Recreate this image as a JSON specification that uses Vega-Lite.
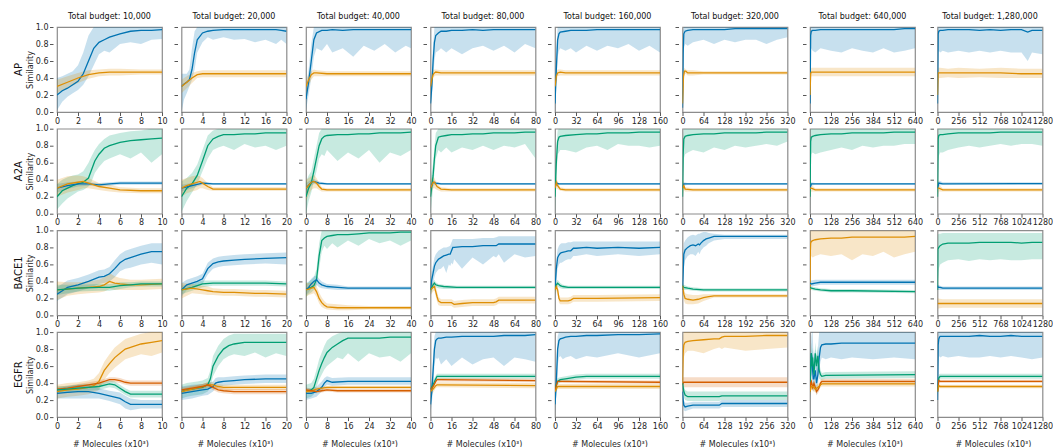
{
"$schema":"https://vega.github.io/schema/vega-lite/v6.json",
"padding":{"left":14,"top":13,"right":0,"bottom":0},
"spacing":5.5,
"datasets":{"series":[
{"target":"AP","budget":10,"method":"m1","x":[0,0.5,1,1.5,2,2.5,3,3.5,4,4.5,5,6,7,8,9,10],"mean":[0.2,0.25,0.28,0.32,0.36,0.45,0.6,0.75,0.82,0.85,0.88,0.92,0.95,0.96,0.96,0.97],"lo":[0.02,0.12,0.18,0.22,0.26,0.32,0.42,0.55,0.68,0.72,0.7,0.8,0.82,0.8,0.85,0.86],"hi":[0.4,0.42,0.45,0.48,0.55,0.7,0.9,1,1,1,1,1,1,1,1,1]},
{"target":"AP","budget":10,"method":"m2","x":[0,1,2,3,4,5,6,8,10],"mean":[0.3,0.35,0.4,0.44,0.46,0.47,0.47,0.47,0.47],"lo":[0.22,0.28,0.34,0.39,0.42,0.43,0.43,0.44,0.44],"hi":[0.38,0.42,0.46,0.49,0.5,0.51,0.51,0.5,0.5]},
{"target":"AP","budget":20,"method":"m1","x":[0,0.5,1,1.5,2,2.5,3,4,5,6,8,10,12,14,16,18,19,20],"mean":[0.3,0.33,0.35,0.38,0.5,0.7,0.85,0.93,0.95,0.96,0.97,0.97,0.97,0.97,0.97,0.97,0.96,0.95],"lo":[0.0,0.15,0.22,0.3,0.38,0.5,0.7,0.82,0.88,0.85,0.88,0.85,0.86,0.82,0.85,0.8,0.85,0.8],"hi":[0.45,0.45,0.45,0.5,0.75,0.95,1,1,1,1,1,1,1,1,1,1,1,1]},
{"target":"AP","budget":20,"method":"m2","x":[0,1,2,3,4,6,10,14,20],"mean":[0.3,0.35,0.4,0.44,0.45,0.45,0.45,0.45,0.45],"lo":[0.22,0.28,0.34,0.4,0.41,0.41,0.41,0.41,0.41],"hi":[0.38,0.42,0.46,0.48,0.49,0.49,0.49,0.49,0.49]},
{"target":"AP","budget":40,"method":"m1","x":[0,1,2,3,4,6,8,10,14,18,22,26,30,34,38,40],"mean":[0.15,0.35,0.6,0.85,0.93,0.96,0.96,0.97,0.96,0.97,0.97,0.97,0.97,0.97,0.97,0.97],"lo":[0.02,0.2,0.4,0.65,0.75,0.72,0.8,0.7,0.75,0.65,0.78,0.72,0.8,0.7,0.78,0.75],"hi":[0.3,0.5,0.8,1,1,1,1,1,1,1,1,1,1,1,1,1]},
{"target":"AP","budget":40,"method":"m2","x":[0,1,2,3,4,8,16,24,32,40],"mean":[0.3,0.38,0.44,0.46,0.46,0.45,0.45,0.45,0.45,0.45],"lo":[0.2,0.3,0.38,0.42,0.42,0.42,0.42,0.42,0.42,0.42],"hi":[0.38,0.44,0.48,0.5,0.49,0.48,0.48,0.48,0.48,0.48]},
{"target":"AP","budget":80,"method":"m1","x":[0,1,2,3,4,6,8,12,16,24,32,40,48,56,64,72,80],"mean":[0.1,0.3,0.6,0.82,0.9,0.93,0.95,0.95,0.96,0.96,0.97,0.96,0.97,0.97,0.97,0.97,0.97],"lo":[0.0,0.15,0.4,0.6,0.7,0.72,0.75,0.7,0.75,0.68,0.75,0.78,0.72,0.78,0.7,0.8,0.75],"hi":[0.3,0.5,0.8,1,1,1,1,1,1,1,1,1,1,1,1,1,1]},
{"target":"AP","budget":80,"method":"m2","x":[0,1,2,3,4,8,16,32,48,64,80],"mean":[0.3,0.38,0.44,0.46,0.47,0.46,0.46,0.46,0.46,0.46,0.46],"lo":[0.2,0.3,0.4,0.42,0.43,0.43,0.43,0.43,0.43,0.43,0.43],"hi":[0.38,0.45,0.49,0.5,0.5,0.49,0.49,0.49,0.49,0.49,0.49]},
{"target":"AP","budget":160,"method":"m1","x":[0,2,4,6,8,16,24,32,48,64,80,96,112,128,144,160],"mean":[0.1,0.5,0.85,0.92,0.94,0.95,0.96,0.96,0.96,0.97,0.97,0.97,0.97,0.97,0.97,0.97],"lo":[0,0.3,0.65,0.72,0.75,0.72,0.75,0.7,0.78,0.72,0.78,0.75,0.8,0.72,0.78,0.7],"hi":[0.3,0.75,1,1,1,1,1,1,1,1,1,1,1,1,1,1]},
{"target":"AP","budget":160,"method":"m2","x":[0,2,4,8,16,32,64,96,128,160],"mean":[0.3,0.42,0.46,0.47,0.46,0.46,0.46,0.46,0.46,0.46],"lo":[0.2,0.35,0.42,0.43,0.43,0.43,0.43,0.43,0.43,0.43],"hi":[0.38,0.47,0.5,0.5,0.49,0.49,0.49,0.49,0.49,0.49]},
{"target":"AP","budget":320,"method":"m1","x":[0,2,4,8,16,32,64,96,128,160,192,224,256,288,320],"mean":[0.05,0.7,0.92,0.95,0.96,0.97,0.97,0.97,0.97,0.98,0.98,0.98,0.98,0.98,0.98],"lo":[0,0.4,0.75,0.8,0.78,0.82,0.85,0.8,0.85,0.82,0.85,0.85,0.8,0.85,0.88],"hi":[0.3,0.95,1,1,1,1,1,1,1,1,1,1,1,1,1]},
{"target":"AP","budget":320,"method":"m2","x":[0,3,6,10,16,32,64,128,192,256,320],"mean":[0.1,0.42,0.48,0.48,0.46,0.46,0.46,0.46,0.46,0.46,0.46],"lo":[0.0,0.35,0.44,0.45,0.43,0.43,0.44,0.44,0.44,0.44,0.44],"hi":[0.2,0.48,0.52,0.5,0.49,0.49,0.48,0.48,0.48,0.48,0.48]},
{"target":"AP","budget":640,"method":"m1","x":[0,4,8,16,32,64,128,192,256,320,384,448,512,576,640],"mean":[0.1,0.9,0.95,0.96,0.96,0.97,0.97,0.97,0.97,0.97,0.97,0.97,0.97,0.98,0.98],"lo":[0,0.7,0.75,0.72,0.7,0.75,0.72,0.7,0.75,0.72,0.7,0.75,0.7,0.72,0.75],"hi":[0.4,1,1,1,1,1,1,1,1,1,1,1,1,1,1]},
{"target":"AP","budget":640,"method":"m2","x":[0,4,8,32,128,256,384,512,640],"mean":[0.2,0.45,0.47,0.47,0.47,0.47,0.47,0.47,0.47],"lo":[0.1,0.4,0.42,0.42,0.42,0.42,0.42,0.42,0.42],"hi":[0.3,0.5,0.52,0.52,0.52,0.52,0.52,0.52,0.52]},
{"target":"AP","budget":1280,"method":"m1","x":[0,8,16,32,64,128,256,384,512,640,768,896,1024,1100,1152,1280],"mean":[0.1,0.92,0.95,0.96,0.96,0.97,0.97,0.97,0.96,0.97,0.96,0.97,0.97,0.94,0.96,0.96],"lo":[0,0.7,0.72,0.7,0.72,0.7,0.72,0.7,0.72,0.7,0.72,0.7,0.7,0.6,0.7,0.68],"hi":[0.4,1,1,1,1,1,1,1,1,1,1,1,1,1,1,1]},
{"target":"AP","budget":1280,"method":"m2","x":[0,8,32,128,256,512,768,1024,1280],"mean":[0.2,0.46,0.46,0.46,0.46,0.46,0.46,0.45,0.45],"lo":[0.1,0.4,0.4,0.41,0.4,0.41,0.4,0.4,0.4],"hi":[0.3,0.52,0.52,0.51,0.52,0.51,0.52,0.51,0.51]},

{"target":"A2A","budget":10,"method":"m3","x":[0,0.5,1,1.5,2,2.5,3,3.3,3.6,4,4.5,5,6,7,8,9,10],"mean":[0.2,0.27,0.3,0.33,0.35,0.37,0.42,0.52,0.62,0.7,0.77,0.8,0.84,0.86,0.87,0.88,0.89],"lo":[0.05,0.12,0.18,0.22,0.26,0.28,0.32,0.38,0.48,0.55,0.62,0.65,0.7,0.65,0.72,0.6,0.7],"hi":[0.35,0.4,0.43,0.45,0.46,0.5,0.6,0.68,0.75,0.82,0.88,0.92,0.95,0.97,0.98,1,1]},
{"target":"A2A","budget":10,"method":"m1","x":[0,1,2,3,4,5,6,8,10],"mean":[0.3,0.33,0.35,0.35,0.34,0.35,0.36,0.36,0.36],"lo":[0.25,0.29,0.32,0.33,0.32,0.33,0.34,0.34,0.34],"hi":[0.35,0.37,0.38,0.37,0.36,0.37,0.38,0.38,0.38]},
{"target":"A2A","budget":10,"method":"m2","x":[0,1,2,2.5,3,4,5,6,8,10],"mean":[0.3,0.35,0.37,0.38,0.36,0.32,0.3,0.28,0.27,0.27],"lo":[0.2,0.25,0.28,0.3,0.3,0.28,0.26,0.25,0.24,0.24],"hi":[0.4,0.44,0.45,0.44,0.42,0.36,0.34,0.31,0.3,0.3]},
{"target":"A2A","budget":20,"method":"m3","x":[0,1,2,3,4,5,6,7,8,10,12,14,16,18,20],"mean":[0.2,0.3,0.35,0.45,0.62,0.8,0.88,0.91,0.93,0.93,0.94,0.94,0.95,0.95,0.95],"lo":[0.02,0.15,0.25,0.35,0.5,0.65,0.75,0.78,0.8,0.75,0.82,0.78,0.8,0.75,0.8],"hi":[0.38,0.42,0.48,0.58,0.75,0.92,0.98,1,1,1,1,1,1,1,1]},
{"target":"A2A","budget":20,"method":"m1","x":[0,2,4,6,10,14,20],"mean":[0.3,0.33,0.36,0.35,0.35,0.35,0.35],"lo":[0.26,0.3,0.34,0.34,0.34,0.34,0.34],"hi":[0.34,0.36,0.38,0.36,0.36,0.36,0.36]},
{"target":"A2A","budget":20,"method":"m2","x":[0,1,2,3,3.5,4,5,6,10,14,20],"mean":[0.3,0.33,0.35,0.37,0.38,0.36,0.32,0.29,0.29,0.29,0.29],"lo":[0.2,0.24,0.26,0.28,0.3,0.3,0.28,0.27,0.27,0.27,0.27],"hi":[0.4,0.42,0.44,0.45,0.44,0.42,0.36,0.31,0.31,0.31,0.31]},
{"target":"A2A","budget":40,"method":"m3","x":[0,1,2,3,4,5,6,7,8,12,16,20,24,28,32,36,40],"mean":[0.2,0.3,0.36,0.5,0.65,0.8,0.88,0.91,0.92,0.93,0.93,0.94,0.94,0.95,0.95,0.95,0.96],"lo":[0.0,0.15,0.25,0.38,0.5,0.65,0.7,0.68,0.75,0.62,0.72,0.65,0.75,0.6,0.72,0.68,0.75],"hi":[0.38,0.45,0.5,0.65,0.8,0.95,1,1,1,1,1,1,1,1,1,1,1]},
{"target":"A2A","budget":40,"method":"m1","x":[0,2,3,5,8,16,40],"mean":[0.3,0.37,0.38,0.36,0.35,0.35,0.35],"lo":[0.24,0.33,0.35,0.34,0.34,0.34,0.34],"hi":[0.36,0.4,0.41,0.38,0.36,0.36,0.36]},
{"target":"A2A","budget":40,"method":"m2","x":[0,2,3,4,5,6,8,16,40],"mean":[0.3,0.37,0.38,0.36,0.32,0.29,0.28,0.28,0.28],"lo":[0.15,0.28,0.3,0.3,0.28,0.26,0.26,0.26,0.26],"hi":[0.4,0.44,0.46,0.42,0.36,0.31,0.3,0.3,0.3]},
{"target":"A2A","budget":80,"method":"m3","x":[0,2,3,4,6,8,12,16,24,32,40,48,56,64,72,80],"mean":[0.2,0.45,0.65,0.8,0.9,0.91,0.92,0.93,0.93,0.94,0.94,0.95,0.95,0.95,0.96,0.96],"lo":[0,0.3,0.5,0.65,0.75,0.72,0.78,0.72,0.78,0.75,0.8,0.75,0.8,0.78,0.82,0.65],"hi":[0.38,0.6,0.8,0.95,1,1,1,1,1,1,1,1,1,1,1,1]},
{"target":"A2A","budget":80,"method":"m1","x":[0,2,4,8,80],"mean":[0.3,0.37,0.36,0.35,0.35],"lo":[0.25,0.33,0.34,0.34,0.34],"hi":[0.35,0.4,0.38,0.36,0.36]},
{"target":"A2A","budget":80,"method":"m2","x":[0,2,3,5,8,16,80],"mean":[0.3,0.37,0.37,0.32,0.29,0.28,0.28],"lo":[0.2,0.3,0.3,0.28,0.26,0.26,0.26],"hi":[0.4,0.44,0.42,0.35,0.31,0.3,0.3]},
{"target":"A2A","budget":160,"method":"m3","x":[0,2,4,6,8,16,32,48,64,80,96,112,128,144,160],"mean":[0.2,0.6,0.85,0.9,0.91,0.92,0.93,0.94,0.94,0.95,0.95,0.95,0.96,0.96,0.96],"lo":[0,0.4,0.7,0.72,0.75,0.75,0.72,0.78,0.8,0.75,0.82,0.8,0.8,0.78,0.8],"hi":[0.4,0.8,0.98,1,1,1,1,1,1,1,1,1,1,1,1]},
{"target":"A2A","budget":160,"method":"m1","x":[0,2,6,160],"mean":[0.3,0.36,0.35,0.35],"lo":[0.25,0.33,0.34,0.34],"hi":[0.35,0.39,0.36,0.36]},
{"target":"A2A","budget":160,"method":"m2","x":[0,2,4,8,16,160],"mean":[0.3,0.37,0.33,0.29,0.28,0.28],"lo":[0.2,0.3,0.29,0.27,0.26,0.26],"hi":[0.4,0.44,0.37,0.31,0.3,0.3]},
{"target":"A2A","budget":320,"method":"m3","x":[0,2,4,8,16,32,64,96,128,160,192,224,256,288,320],"mean":[0.2,0.7,0.88,0.91,0.92,0.93,0.94,0.94,0.95,0.95,0.95,0.95,0.96,0.96,0.96],"lo":[0,0.45,0.65,0.7,0.72,0.75,0.72,0.78,0.75,0.8,0.78,0.8,0.82,0.8,0.85],"hi":[0.4,0.9,1,1,1,1,1,1,1,1,1,1,1,1,1]},
{"target":"A2A","budget":320,"method":"m1","x":[0,4,16,320],"mean":[0.3,0.35,0.35,0.35],"lo":[0.25,0.33,0.34,0.34],"hi":[0.35,0.37,0.36,0.36]},
{"target":"A2A","budget":320,"method":"m2","x":[0,4,8,32,320],"mean":[0.3,0.33,0.29,0.28,0.28],"lo":[0.2,0.28,0.26,0.26,0.26],"hi":[0.4,0.38,0.31,0.3,0.3]},
{"target":"A2A","budget":640,"method":"m3","x":[0,4,8,16,32,64,128,192,256,320,384,448,512,576,640],"mean":[0.2,0.85,0.9,0.91,0.92,0.93,0.94,0.94,0.95,0.95,0.95,0.95,0.96,0.96,0.96],"lo":[0,0.6,0.7,0.72,0.7,0.72,0.75,0.78,0.75,0.8,0.78,0.8,0.8,0.82,0.82],"hi":[0.4,1,1,1,1,1,1,1,1,1,1,1,1,1,1]},
{"target":"A2A","budget":640,"method":"m1","x":[0,8,32,640],"mean":[0.3,0.35,0.35,0.35],"lo":[0.25,0.33,0.34,0.34],"hi":[0.35,0.37,0.36,0.36]},
{"target":"A2A","budget":640,"method":"m2","x":[0,8,32,640],"mean":[0.3,0.3,0.28,0.28],"lo":[0.2,0.26,0.26,0.26],"hi":[0.4,0.34,0.3,0.3]},
{"target":"A2A","budget":1280,"method":"m3","x":[0,8,16,32,64,128,256,384,512,640,768,896,1024,1152,1280],"mean":[0.2,0.88,0.92,0.93,0.93,0.94,0.95,0.95,0.95,0.95,0.96,0.96,0.96,0.96,0.96],"lo":[0,0.6,0.68,0.72,0.72,0.75,0.78,0.8,0.78,0.8,0.82,0.8,0.82,0.82,0.8],"hi":[0.4,1,1,1,1,1,1,1,1,1,1,1,1,1,1]},
{"target":"A2A","budget":1280,"method":"m1","x":[0,16,64,1280],"mean":[0.3,0.36,0.35,0.355],"lo":[0.25,0.33,0.34,0.34],"hi":[0.35,0.39,0.37,0.37]},
{"target":"A2A","budget":1280,"method":"m2","x":[0,16,64,1280],"mean":[0.3,0.3,0.28,0.28],"lo":[0.2,0.26,0.26,0.26],"hi":[0.4,0.34,0.3,0.3]},

{"target":"BACE1","budget":10,"method":"m1","x":[0,1,2,3,4,4.5,5,5.5,6,6.5,7,8,9,10],"mean":[0.25,0.33,0.36,0.4,0.45,0.46,0.49,0.55,0.62,0.66,0.68,0.72,0.75,0.75],"lo":[0.17,0.25,0.28,0.32,0.37,0.38,0.4,0.45,0.52,0.55,0.56,0.6,0.62,0.6],"hi":[0.33,0.41,0.44,0.48,0.53,0.54,0.57,0.65,0.72,0.76,0.78,0.82,0.85,0.85]},
{"target":"BACE1","budget":10,"method":"m2","x":[0,1,2,3,4,4.5,5,5.5,6,7,8,10],"mean":[0.3,0.31,0.32,0.33,0.34,0.36,0.4,0.38,0.37,0.36,0.36,0.37],"lo":[0.18,0.23,0.25,0.26,0.27,0.28,0.31,0.3,0.3,0.3,0.3,0.31],"hi":[0.4,0.39,0.39,0.4,0.42,0.45,0.5,0.46,0.44,0.42,0.42,0.43]},
{"target":"BACE1","budget":10,"method":"m3","x":[0,2,4,5,6,7,8,10],"mean":[0.3,0.32,0.33,0.33,0.35,0.36,0.37,0.37],"lo":[0.24,0.28,0.29,0.29,0.31,0.33,0.34,0.34],"hi":[0.36,0.36,0.37,0.37,0.39,0.39,0.4,0.4]},
{"target":"BACE1","budget":20,"method":"m1","x":[0,1,2,3,4,5,6,7,8,10,12,16,20],"mean":[0.3,0.36,0.38,0.4,0.43,0.55,0.61,0.63,0.64,0.65,0.66,0.67,0.68],"lo":[0.22,0.3,0.32,0.34,0.37,0.48,0.55,0.57,0.58,0.59,0.6,0.61,0.6],"hi":[0.38,0.42,0.44,0.46,0.49,0.62,0.67,0.69,0.7,0.71,0.72,0.73,0.74]},
{"target":"BACE1","budget":20,"method":"m3","x":[0,2,4,6,8,12,16,20],"mean":[0.3,0.33,0.37,0.38,0.38,0.38,0.38,0.37],"lo":[0.25,0.29,0.33,0.35,0.35,0.35,0.35,0.34],"hi":[0.35,0.37,0.41,0.41,0.41,0.41,0.41,0.4]},
{"target":"BACE1","budget":20,"method":"m2","x":[0,2,4,5,6,8,10,14,16,20],"mean":[0.3,0.32,0.3,0.29,0.28,0.27,0.27,0.26,0.26,0.25],"lo":[0.2,0.26,0.25,0.24,0.24,0.23,0.23,0.22,0.22,0.21],"hi":[0.38,0.37,0.35,0.34,0.32,0.31,0.31,0.3,0.3,0.29]},
{"target":"BACE1","budget":40,"method":"m3","x":[0,1,2,3,4,5,6,7,8,10,12,16,20,24,28,32,36,40],"mean":[0.3,0.32,0.33,0.35,0.42,0.7,0.88,0.91,0.93,0.94,0.95,0.95,0.96,0.97,0.97,0.97,0.98,0.98],"lo":[0.22,0.25,0.27,0.3,0.35,0.55,0.75,0.82,0.78,0.85,0.8,0.88,0.82,0.9,0.85,0.88,0.82,0.88],"hi":[0.38,0.4,0.42,0.45,0.55,0.85,1,1,1,1,1,1,1,1,1,1,1,1]},
{"target":"BACE1","budget":40,"method":"m1","x":[0,1,2,3,4,5,6,8,12,16,24,40],"mean":[0.3,0.33,0.37,0.4,0.42,0.38,0.36,0.34,0.33,0.32,0.32,0.32],"lo":[0.24,0.27,0.31,0.34,0.36,0.33,0.32,0.31,0.3,0.3,0.3,0.3],"hi":[0.36,0.39,0.43,0.46,0.47,0.43,0.4,0.37,0.36,0.34,0.34,0.34]},
{"target":"BACE1","budget":40,"method":"m2","x":[0,1,2,3,4,5,6,7,8,12,16,24,40],"mean":[0.3,0.31,0.32,0.33,0.28,0.2,0.15,0.12,0.1,0.09,0.09,0.09,0.09],"lo":[0.22,0.24,0.25,0.26,0.22,0.14,0.1,0.08,0.07,0.06,0.06,0.07,0.07],"hi":[0.38,0.38,0.39,0.4,0.35,0.27,0.21,0.17,0.14,0.13,0.12,0.11,0.11]},
{"target":"BACE1","budget":80,"method":"m1","x":[0,1,2,3,4,6,8,10,12,14,15,16,17,18,24,32,40,48,50,52,56,64,72,80],"mean":[0.3,0.42,0.5,0.58,0.62,0.66,0.68,0.7,0.71,0.72,0.72,0.76,0.8,0.8,0.81,0.81,0.82,0.82,0.82,0.84,0.84,0.84,0.84,0.84],"lo":[0.2,0.3,0.38,0.45,0.5,0.54,0.55,0.58,0.5,0.6,0.58,0.62,0.6,0.66,0.55,0.68,0.6,0.7,0.68,0.72,0.62,0.72,0.68,0.7],"hi":[0.4,0.52,0.6,0.68,0.72,0.76,0.78,0.8,0.8,0.81,0.82,0.86,0.9,0.9,0.9,0.9,0.91,0.91,0.92,0.93,0.93,0.93,0.93,0.93]},
{"target":"BACE1","budget":80,"method":"m3","x":[0,2,3,4,6,10,20,40,80],"mean":[0.3,0.36,0.38,0.36,0.35,0.34,0.33,0.33,0.33],"lo":[0.25,0.32,0.34,0.33,0.32,0.31,0.31,0.31,0.31],"hi":[0.35,0.4,0.42,0.39,0.37,0.36,0.35,0.35,0.35]},
{"target":"BACE1","budget":80,"method":"m2","x":[0,2,3,4,5,6,8,10,16,17,18,24,32,48,50,52,60,80],"mean":[0.3,0.33,0.34,0.28,0.22,0.17,0.15,0.15,0.15,0.14,0.13,0.14,0.15,0.15,0.16,0.18,0.18,0.18],"lo":[0.24,0.28,0.29,0.22,0.16,0.12,0.11,0.11,0.11,0.1,0.09,0.1,0.11,0.11,0.12,0.14,0.14,0.14],"hi":[0.36,0.38,0.39,0.34,0.28,0.22,0.19,0.19,0.19,0.18,0.17,0.18,0.19,0.19,0.2,0.22,0.22,0.22]},
{"target":"BACE1","budget":160,"method":"m1","x":[0,2,4,6,8,10,16,20,24,28,32,48,64,96,128,160],"mean":[0.3,0.55,0.68,0.71,0.73,0.74,0.75,0.76,0.76,0.79,0.79,0.8,0.79,0.8,0.79,0.8],"lo":[0.2,0.42,0.55,0.6,0.62,0.62,0.65,0.66,0.66,0.7,0.7,0.72,0.7,0.72,0.7,0.72],"hi":[0.4,0.66,0.78,0.82,0.84,0.85,0.85,0.86,0.86,0.87,0.87,0.87,0.87,0.87,0.87,0.87]},
{"target":"BACE1","budget":160,"method":"m3","x":[0,2,4,8,12,20,32,160],"mean":[0.3,0.36,0.38,0.35,0.34,0.33,0.33,0.33],"lo":[0.25,0.32,0.34,0.32,0.31,0.31,0.31,0.31],"hi":[0.35,0.4,0.42,0.38,0.36,0.35,0.35,0.35]},
{"target":"BACE1","budget":160,"method":"m2","x":[0,2,4,6,8,12,20,24,28,32,64,160],"mean":[0.3,0.34,0.3,0.2,0.17,0.17,0.17,0.18,0.2,0.2,0.2,0.21],"lo":[0.24,0.29,0.24,0.15,0.13,0.13,0.13,0.14,0.16,0.16,0.16,0.17],"hi":[0.36,0.39,0.36,0.25,0.21,0.21,0.21,0.22,0.24,0.24,0.24,0.25]},
{"target":"BACE1","budget":320,"method":"m1","x":[0,4,8,16,24,32,40,48,52,56,64,72,80,96,128,192,256,320],"mean":[0.3,0.72,0.77,0.8,0.82,0.83,0.82,0.84,0.83,0.85,0.88,0.9,0.91,0.93,0.93,0.93,0.93,0.93],"lo":[0.2,0.55,0.65,0.7,0.72,0.72,0.7,0.75,0.72,0.76,0.8,0.82,0.85,0.88,0.9,0.9,0.9,0.9],"hi":[0.4,0.85,0.88,0.92,0.94,0.95,0.94,0.96,0.96,0.97,0.98,0.98,0.97,0.96,0.95,0.95,0.95,0.95]},
{"target":"BACE1","budget":320,"method":"m3","x":[0,4,16,32,64,96,320],"mean":[0.35,0.33,0.32,0.31,0.3,0.3,0.3],"lo":[0.3,0.3,0.3,0.29,0.28,0.28,0.28],"hi":[0.4,0.36,0.34,0.33,0.32,0.32,0.32]},
{"target":"BACE1","budget":320,"method":"m2","x":[0,4,8,16,32,48,64,80,96,128,320],"mean":[0.35,0.25,0.2,0.19,0.18,0.19,0.21,0.22,0.23,0.23,0.23],"lo":[0.3,0.18,0.14,0.13,0.13,0.14,0.17,0.19,0.21,0.21,0.21],"hi":[0.4,0.32,0.26,0.25,0.24,0.24,0.25,0.25,0.25,0.25,0.25]},
{"target":"BACE1","budget":640,"method":"m2","x":[0,2,4,8,16,32,64,128,192,256,320,384,448,512,576,640],"mean":[0.3,0.75,0.85,0.87,0.88,0.89,0.9,0.91,0.91,0.92,0.92,0.92,0.92,0.92,0.92,0.93],"lo":[0.2,0.55,0.65,0.7,0.68,0.7,0.72,0.7,0.72,0.65,0.72,0.7,0.75,0.68,0.72,0.75],"hi":[0.4,1,1,1,1,1,1,1,1,1,1,1,1,1,1,1]},
{"target":"BACE1","budget":640,"method":"m1","x":[0,8,32,64,640],"mean":[0.38,0.37,0.38,0.39,0.39],"lo":[0.34,0.34,0.35,0.36,0.36],"hi":[0.42,0.41,0.42,0.42,0.42]},
{"target":"BACE1","budget":640,"method":"m3","x":[0,8,32,64,128,256,640],"mean":[0.33,0.32,0.31,0.3,0.29,0.29,0.28],"lo":[0.3,0.3,0.29,0.28,0.27,0.27,0.26],"hi":[0.36,0.34,0.33,0.32,0.31,0.31,0.3]},
{"target":"BACE1","budget":1280,"method":"m3","x":[0,4,16,32,64,128,256,384,512,640,768,896,1024,1152,1280],"mean":[0.3,0.78,0.8,0.82,0.84,0.85,0.85,0.85,0.86,0.86,0.86,0.86,0.85,0.86,0.86],"lo":[0.2,0.4,0.55,0.6,0.62,0.65,0.66,0.64,0.66,0.65,0.66,0.65,0.65,0.66,0.66],"hi":[0.4,0.95,0.96,0.96,0.97,0.97,0.97,0.97,0.97,0.97,0.97,0.97,0.97,0.97,0.97]},
{"target":"BACE1","budget":1280,"method":"m1","x":[0,8,32,64,128,1280],"mean":[0.35,0.33,0.33,0.32,0.32,0.32],"lo":[0.3,0.3,0.3,0.3,0.3,0.3],"hi":[0.4,0.36,0.35,0.34,0.34,0.34]},
{"target":"BACE1","budget":1280,"method":"m2","x":[0,8,64,1280],"mean":[0.14,0.14,0.14,0.14],"lo":[0.05,0.08,0.09,0.09],"hi":[0.25,0.2,0.19,0.19]},

{"target":"EGFR","budget":10,"method":"m2","x":[0,1,2,3,3.5,4,4.5,5,5.5,6,6.5,7,8,9,10],"mean":[0.3,0.32,0.33,0.35,0.37,0.42,0.55,0.63,0.7,0.75,0.8,0.82,0.86,0.88,0.9],"lo":[0.22,0.24,0.25,0.27,0.29,0.32,0.44,0.52,0.58,0.63,0.68,0.7,0.74,0.72,0.76],"hi":[0.38,0.4,0.41,0.43,0.45,0.52,0.65,0.74,0.82,0.87,0.92,0.94,0.98,1,1]},
{"target":"EGFR","budget":10,"method":"m4","x":[0,1,2,3,4,5,5.5,6,6.5,7,8,10],"mean":[0.33,0.34,0.36,0.38,0.4,0.44,0.44,0.43,0.41,0.4,0.4,0.4],"lo":[0.3,0.31,0.33,0.35,0.37,0.41,0.41,0.4,0.38,0.37,0.37,0.37],"hi":[0.36,0.37,0.39,0.41,0.43,0.47,0.47,0.46,0.44,0.43,0.43,0.43]},
{"target":"EGFR","budget":10,"method":"m3","x":[0,1,2,3,4,5,5.5,6,6.5,7,8,10],"mean":[0.32,0.33,0.34,0.35,0.36,0.39,0.38,0.34,0.3,0.27,0.27,0.27],"lo":[0.28,0.29,0.3,0.31,0.32,0.35,0.34,0.3,0.26,0.23,0.23,0.23],"hi":[0.36,0.37,0.38,0.39,0.4,0.43,0.42,0.38,0.34,0.31,0.31,0.31]},
{"target":"EGFR","budget":10,"method":"m1","x":[0,1,2,3,4,5,6,6.5,7,8,10],"mean":[0.28,0.29,0.3,0.3,0.28,0.25,0.22,0.18,0.15,0.15,0.15],"lo":[0.22,0.22,0.22,0.22,0.22,0.19,0.15,0.1,0.08,0.1,0.1],"hi":[0.34,0.36,0.38,0.38,0.34,0.31,0.29,0.25,0.22,0.2,0.2]},
{"target":"EGFR","budget":20,"method":"m3","x":[0,1,2,3,4,5,5.5,6,7,8,9,10,12,14,16,18,20],"mean":[0.3,0.32,0.33,0.34,0.35,0.38,0.45,0.6,0.72,0.8,0.84,0.86,0.88,0.88,0.88,0.88,0.88],"lo":[0.22,0.24,0.25,0.26,0.27,0.3,0.35,0.48,0.6,0.68,0.72,0.74,0.72,0.76,0.7,0.75,0.72],"hi":[0.38,0.4,0.41,0.42,0.43,0.46,0.55,0.72,0.84,0.92,0.96,0.98,0.98,0.98,0.98,0.98,0.98]},
{"target":"EGFR","budget":20,"method":"m1","x":[0,2,4,5,6,6.5,7,8,10,12,16,20],"mean":[0.28,0.3,0.32,0.33,0.36,0.4,0.41,0.42,0.43,0.44,0.45,0.45],"lo":[0.2,0.22,0.25,0.26,0.3,0.34,0.35,0.37,0.38,0.39,0.4,0.4],"hi":[0.36,0.38,0.39,0.4,0.42,0.46,0.47,0.47,0.48,0.49,0.5,0.5]},
{"target":"EGFR","budget":20,"method":"m2","x":[0,2,4,5,6,7,8,10,20],"mean":[0.3,0.33,0.36,0.38,0.38,0.36,0.35,0.35,0.35],"lo":[0.27,0.3,0.33,0.35,0.35,0.33,0.32,0.32,0.32],"hi":[0.33,0.36,0.39,0.41,0.41,0.39,0.38,0.38,0.38]},
{"target":"EGFR","budget":20,"method":"m4","x":[0,2,4,5,6,7,8,10,20],"mean":[0.32,0.34,0.36,0.38,0.35,0.32,0.31,0.3,0.3],"lo":[0.29,0.31,0.33,0.35,0.32,0.29,0.28,0.27,0.27],"hi":[0.35,0.37,0.39,0.41,0.38,0.35,0.34,0.33,0.33]},
{"target":"EGFR","budget":40,"method":"m3","x":[0,2,3,4,5,6,7,8,10,12,14,16,20,24,28,32,36,40],"mean":[0.3,0.32,0.35,0.45,0.55,0.63,0.7,0.76,0.82,0.86,0.9,0.93,0.93,0.93,0.93,0.94,0.94,0.94],"lo":[0.22,0.24,0.27,0.35,0.44,0.5,0.56,0.6,0.65,0.7,0.68,0.75,0.65,0.75,0.7,0.72,0.65,0.75],"hi":[0.38,0.4,0.45,0.56,0.68,0.76,0.84,0.9,0.95,0.98,1,1,1,1,1,1,1,1]},
{"target":"EGFR","budget":40,"method":"m1","x":[0,2,4,6,7,8,10,16,24,40],"mean":[0.28,0.28,0.3,0.35,0.4,0.43,0.41,0.42,0.42,0.42],"lo":[0.2,0.22,0.24,0.3,0.35,0.38,0.37,0.38,0.38,0.38],"hi":[0.34,0.34,0.36,0.42,0.46,0.48,0.46,0.47,0.47,0.47]},
{"target":"EGFR","budget":40,"method":"m2","x":[0,2,4,6,8,12,40],"mean":[0.3,0.31,0.33,0.34,0.35,0.35,0.35],"lo":[0.27,0.29,0.31,0.32,0.33,0.33,0.33],"hi":[0.33,0.33,0.35,0.36,0.37,0.37,0.37]},
{"target":"EGFR","budget":40,"method":"m4","x":[0,2,4,6,8,12,40],"mean":[0.32,0.31,0.3,0.31,0.32,0.31,0.31],"lo":[0.29,0.29,0.28,0.29,0.3,0.29,0.29],"hi":[0.35,0.33,0.32,0.33,0.34,0.33,0.33]},
{"target":"EGFR","budget":80,"method":"m1","x":[0,1,2,3,4,5,6,8,12,16,24,32,40,48,56,64,72,80],"mean":[0.15,0.3,0.55,0.8,0.9,0.92,0.93,0.93,0.94,0.94,0.95,0.95,0.95,0.95,0.96,0.96,0.96,0.97],"lo":[0.05,0.15,0.35,0.6,0.7,0.68,0.7,0.62,0.68,0.6,0.7,0.62,0.68,0.7,0.6,0.7,0.68,0.65],"hi":[0.3,0.45,0.75,0.95,1,1,1,1,1,1,1,1,1,1,1,1,1,1]},
{"target":"EGFR","budget":80,"method":"m3","x":[0,2,4,5,8,80],"mean":[0.33,0.38,0.45,0.48,0.48,0.48],"lo":[0.28,0.33,0.41,0.45,0.45,0.45],"hi":[0.38,0.43,0.49,0.51,0.51,0.51]},
{"target":"EGFR","budget":80,"method":"m4","x":[0,2,4,5,8,80],"mean":[0.32,0.36,0.42,0.44,0.44,0.43],"lo":[0.28,0.33,0.4,0.42,0.42,0.41],"hi":[0.36,0.39,0.44,0.46,0.46,0.45]},
{"target":"EGFR","budget":80,"method":"m2","x":[0,2,4,5,8,80],"mean":[0.3,0.33,0.37,0.38,0.38,0.37],"lo":[0.25,0.29,0.34,0.35,0.35,0.34],"hi":[0.35,0.37,0.4,0.41,0.41,0.4]},
{"target":"EGFR","budget":160,"method":"m1","x":[0,2,4,6,8,12,16,24,32,48,64,96,128,160],"mean":[0.15,0.4,0.8,0.9,0.92,0.93,0.94,0.95,0.95,0.96,0.96,0.97,0.97,0.98],"lo":[0.05,0.25,0.6,0.7,0.72,0.68,0.7,0.72,0.68,0.72,0.7,0.75,0.7,0.75],"hi":[0.3,0.6,0.95,1,1,1,1,1,1,1,1,1,1,1]},
{"target":"EGFR","budget":160,"method":"m3","x":[0,4,8,16,32,48,160],"mean":[0.33,0.42,0.44,0.45,0.47,0.48,0.48],"lo":[0.28,0.38,0.41,0.42,0.44,0.45,0.45],"hi":[0.38,0.46,0.47,0.48,0.5,0.51,0.51]},
{"target":"EGFR","budget":160,"method":"m4","x":[0,4,8,160],"mean":[0.32,0.42,0.42,0.41],"lo":[0.28,0.4,0.4,0.39],"hi":[0.36,0.44,0.44,0.43]},
{"target":"EGFR","budget":160,"method":"m2","x":[0,4,8,16,160],"mean":[0.3,0.36,0.36,0.36,0.36],"lo":[0.25,0.33,0.33,0.33,0.33],"hi":[0.35,0.39,0.39,0.39,0.39]},
{"target":"EGFR","budget":320,"method":"m2","x":[0,2,4,8,16,32,64,96,112,120,128,192,256,320],"mean":[0.4,0.75,0.85,0.88,0.89,0.9,0.91,0.92,0.92,0.94,0.95,0.95,0.96,0.96],"lo":[0.3,0.55,0.7,0.75,0.78,0.78,0.75,0.8,0.82,0.8,0.82,0.78,0.8,0.82],"hi":[0.5,0.95,1,1,1,1,1,1,1,1,1,1,1,1]},
{"target":"EGFR","budget":320,"method":"m4","x":[0,2,4,8,32,320],"mean":[0.38,0.4,0.41,0.41,0.41,0.41],"lo":[0.32,0.33,0.35,0.35,0.35,0.35],"hi":[0.44,0.47,0.47,0.47,0.47,0.47]},
{"target":"EGFR","budget":320,"method":"m3","x":[0,2,4,8,16,64,112,120,128,320],"mean":[0.4,0.35,0.3,0.26,0.24,0.24,0.24,0.25,0.25,0.25],"lo":[0.34,0.28,0.23,0.2,0.19,0.19,0.19,0.2,0.2,0.2],"hi":[0.46,0.42,0.37,0.32,0.3,0.3,0.3,0.3,0.3,0.3]},
{"target":"EGFR","budget":320,"method":"m1","x":[0,2,4,8,16,32,64,112,120,128,320],"mean":[0.3,0.2,0.14,0.12,0.13,0.14,0.14,0.14,0.16,0.16,0.16],"lo":[0.24,0.14,0.08,0.07,0.08,0.1,0.1,0.1,0.12,0.12,0.12],"hi":[0.36,0.26,0.2,0.17,0.17,0.18,0.18,0.18,0.2,0.2,0.2]},
{"target":"EGFR","budget":640,"method":"m1","x":[0,4,8,12,16,20,24,32,40,48,56,64,72,96,128,192,256,384,512,640],"mean":[0.3,0.55,0.75,0.7,0.55,0.45,0.45,0.55,0.4,0.5,0.7,0.82,0.85,0.86,0.86,0.87,0.87,0.87,0.87,0.87],"lo":[0.2,0.4,0.5,0.45,0.35,0.3,0.3,0.35,0.25,0.35,0.55,0.65,0.7,0.68,0.7,0.68,0.7,0.68,0.7,0.68],"hi":[0.4,0.75,0.95,1,1,0.8,0.7,0.8,0.7,0.8,1,1,1,1,1,1,1,1,1,1]},
{"target":"EGFR","budget":640,"method":"m3","x":[0,4,8,12,16,24,32,40,48,56,64,72,96,640],"mean":[0.3,0.55,0.75,0.6,0.7,0.5,0.75,0.6,0.72,0.55,0.5,0.48,0.49,0.5],"lo":[0.2,0.42,0.62,0.48,0.58,0.4,0.62,0.5,0.6,0.45,0.44,0.44,0.45,0.46],"hi":[0.4,0.68,0.88,0.72,0.82,0.6,0.88,0.72,0.84,0.65,0.56,0.52,0.53,0.54]},
{"target":"EGFR","budget":640,"method":"m4","x":[0,4,8,16,24,32,40,48,56,64,72,96,640],"mean":[0.3,0.4,0.42,0.35,0.4,0.35,0.3,0.32,0.35,0.4,0.42,0.42,0.42],"lo":[0.25,0.35,0.37,0.3,0.35,0.3,0.26,0.28,0.31,0.36,0.39,0.39,0.39],"hi":[0.35,0.45,0.47,0.4,0.45,0.4,0.34,0.36,0.39,0.44,0.45,0.45,0.45]},
{"target":"EGFR","budget":640,"method":"m2","x":[0,8,16,32,48,64,72,96,640],"mean":[0.3,0.36,0.36,0.33,0.35,0.38,0.39,0.39,0.39],"lo":[0.25,0.32,0.32,0.29,0.31,0.35,0.36,0.36,0.36],"hi":[0.35,0.4,0.4,0.37,0.39,0.41,0.42,0.42,0.42]},
{"target":"EGFR","budget":1280,"method":"m1","x":[0,8,16,24,32,64,128,256,384,512,640,768,896,1024,1152,1280],"mean":[0.2,0.85,0.92,0.94,0.95,0.95,0.95,0.95,0.95,0.96,0.95,0.95,0.96,0.95,0.95,0.95],"lo":[0.1,0.6,0.7,0.72,0.7,0.72,0.7,0.72,0.7,0.7,0.72,0.7,0.72,0.7,0.68,0.7],"hi":[0.3,1,1,1,1,1,1,1,1,1,1,1,1,1,1,1]},
{"target":"EGFR","budget":1280,"method":"m3","x":[0,16,32,1280],"mean":[0.3,0.46,0.48,0.48],"lo":[0.25,0.42,0.45,0.45],"hi":[0.35,0.5,0.51,0.51]},
{"target":"EGFR","budget":1280,"method":"m4","x":[0,16,32,1280],"mean":[0.3,0.43,0.42,0.42],"lo":[0.25,0.4,0.4,0.4],"hi":[0.35,0.46,0.44,0.44]},
{"target":"EGFR","budget":1280,"method":"m2","x":[0,16,32,1280],"mean":[0.3,0.37,0.36,0.36],"lo":[0.25,0.34,0.34,0.34],"hi":[0.35,0.4,0.38,0.38]}
]},
"data":{"name":"series"},
"hconcat":[
{"transform":[{"filter":"datum.budget == 10"},{"flatten":["x","mean","lo","hi"]}],
 "facet":{"row":{"field":"target","type":"nominal","sort":["AP","A2A","BACE1","EGFR"],"title":null,"header":{"labelAngle":-90,"labelFontSize":10,"labelPadding":-3,"labelAlign":"center"}},
          "column":{"field":"budget","type":"ordinal","title":"# Molecules (x10³)","header":{"labelOrient":"top","titleOrient":"bottom","labelExpr":"'Total budget: 10,000'"}}},
 "spacing":{"row":1.7},"resolve":{"axis":{"x":"independent"}},
 "spec":{"width":105,"height":85,
  "encoding":{"x":{"field":"x","type":"quantitative","scale":{"domain":[0,10],"nice":false},"axis":{"values":[0,2,4,6,8,10],"format":"d","title":null,"labelFlush":false,"labelOverlap":false}},
   "color":{"field":"method","type":"nominal","scale":{"domain":["m1","m2","m3","m4"],"range":["#0173b2","#de8f05","#029e73","#d55e00"]},"legend":null}},
  "layer":[
   {"mark":{"type":"area","opacity":0.22,"clip":true},"encoding":{"y":{"field":"lo","type":"quantitative","scale":{"domain":[0,1],"nice":false},"axis":{"values":[0,0.2,0.4,0.6,0.8,1],"format":".1f","title":"Similarity","labelFlush":false,"labelOverlap":false}},"y2":{"field":"hi"}}},
   {"mark":{"type":"line","strokeWidth":1.3,"clip":true},"encoding":{"y":{"field":"mean","type":"quantitative","axis":{"values":[0,0.2,0.4,0.6,0.8,1],"format":".1f","title":"Similarity","labelFlush":false,"labelOverlap":false}}}}]}},
{"transform":[{"filter":"datum.budget == 20"},{"flatten":["x","mean","lo","hi"]}],
 "facet":{"row":{"field":"target","type":"nominal","sort":["AP","A2A","BACE1","EGFR"],"title":null,"header":{"labels":false}},
          "column":{"field":"budget","type":"ordinal","title":"# Molecules (x10³)","header":{"labelOrient":"top","titleOrient":"bottom","labelExpr":"'Total budget: 20,000'"}}},
 "spacing":{"row":1.7},"resolve":{"axis":{"x":"independent"}},
 "spec":{"width":105,"height":85,
  "encoding":{"x":{"field":"x","type":"quantitative","scale":{"domain":[0,20],"nice":false},"axis":{"values":[0,4,8,12,16,20],"format":"d","title":null,"labelFlush":false,"labelOverlap":false}},
   "color":{"field":"method","type":"nominal","scale":{"domain":["m1","m2","m3","m4"],"range":["#0173b2","#de8f05","#029e73","#d55e00"]},"legend":null}},
  "layer":[
   {"mark":{"type":"area","opacity":0.22,"clip":true},"encoding":{"y":{"field":"lo","type":"quantitative","scale":{"domain":[0,1],"nice":false},"axis":{"values":[0,0.2,0.4,0.6,0.8,1],"labels":false,"title":null}},"y2":{"field":"hi"}}},
   {"mark":{"type":"line","strokeWidth":1.3,"clip":true},"encoding":{"y":{"field":"mean","type":"quantitative","axis":{"values":[0,0.2,0.4,0.6,0.8,1],"labels":false,"title":null}}}}]}},
{"transform":[{"filter":"datum.budget == 40"},{"flatten":["x","mean","lo","hi"]}],
 "facet":{"row":{"field":"target","type":"nominal","sort":["AP","A2A","BACE1","EGFR"],"title":null,"header":{"labels":false}},
          "column":{"field":"budget","type":"ordinal","title":"# Molecules (x10³)","header":{"labelOrient":"top","titleOrient":"bottom","labelExpr":"'Total budget: 40,000'"}}},
 "spacing":{"row":1.7},"resolve":{"axis":{"x":"independent"}},
 "spec":{"width":105,"height":85,
  "encoding":{"x":{"field":"x","type":"quantitative","scale":{"domain":[0,40],"nice":false},"axis":{"values":[0,8,16,24,32,40],"format":"d","title":null,"labelFlush":false,"labelOverlap":false}},
   "color":{"field":"method","type":"nominal","scale":{"domain":["m1","m2","m3","m4"],"range":["#0173b2","#de8f05","#029e73","#d55e00"]},"legend":null}},
  "layer":[
   {"mark":{"type":"area","opacity":0.22,"clip":true},"encoding":{"y":{"field":"lo","type":"quantitative","scale":{"domain":[0,1],"nice":false},"axis":{"values":[0,0.2,0.4,0.6,0.8,1],"labels":false,"title":null}},"y2":{"field":"hi"}}},
   {"mark":{"type":"line","strokeWidth":1.3,"clip":true},"encoding":{"y":{"field":"mean","type":"quantitative","axis":{"values":[0,0.2,0.4,0.6,0.8,1],"labels":false,"title":null}}}}]}},
{"transform":[{"filter":"datum.budget == 80"},{"flatten":["x","mean","lo","hi"]}],
 "facet":{"row":{"field":"target","type":"nominal","sort":["AP","A2A","BACE1","EGFR"],"title":null,"header":{"labels":false}},
          "column":{"field":"budget","type":"ordinal","title":"# Molecules (x10³)","header":{"labelOrient":"top","titleOrient":"bottom","labelExpr":"'Total budget: 80,000'"}}},
 "spacing":{"row":1.7},"resolve":{"axis":{"x":"independent"}},
 "spec":{"width":105,"height":85,
  "encoding":{"x":{"field":"x","type":"quantitative","scale":{"domain":[0,80],"nice":false},"axis":{"values":[0,16,32,48,64,80],"format":"d","title":null,"labelFlush":false,"labelOverlap":false}},
   "color":{"field":"method","type":"nominal","scale":{"domain":["m1","m2","m3","m4"],"range":["#0173b2","#de8f05","#029e73","#d55e00"]},"legend":null}},
  "layer":[
   {"mark":{"type":"area","opacity":0.22,"clip":true},"encoding":{"y":{"field":"lo","type":"quantitative","scale":{"domain":[0,1],"nice":false},"axis":{"values":[0,0.2,0.4,0.6,0.8,1],"labels":false,"title":null}},"y2":{"field":"hi"}}},
   {"mark":{"type":"line","strokeWidth":1.3,"clip":true},"encoding":{"y":{"field":"mean","type":"quantitative","axis":{"values":[0,0.2,0.4,0.6,0.8,1],"labels":false,"title":null}}}}]}},
{"transform":[{"filter":"datum.budget == 160"},{"flatten":["x","mean","lo","hi"]}],
 "facet":{"row":{"field":"target","type":"nominal","sort":["AP","A2A","BACE1","EGFR"],"title":null,"header":{"labels":false}},
          "column":{"field":"budget","type":"ordinal","title":"# Molecules (x10³)","header":{"labelOrient":"top","titleOrient":"bottom","labelExpr":"'Total budget: 160,000'"}}},
 "spacing":{"row":1.7},"resolve":{"axis":{"x":"independent"}},
 "spec":{"width":105,"height":85,
  "encoding":{"x":{"field":"x","type":"quantitative","scale":{"domain":[0,160],"nice":false},"axis":{"values":[0,32,64,96,128,160],"format":"d","title":null,"labelFlush":false,"labelOverlap":false}},
   "color":{"field":"method","type":"nominal","scale":{"domain":["m1","m2","m3","m4"],"range":["#0173b2","#de8f05","#029e73","#d55e00"]},"legend":null}},
  "layer":[
   {"mark":{"type":"area","opacity":0.22,"clip":true},"encoding":{"y":{"field":"lo","type":"quantitative","scale":{"domain":[0,1],"nice":false},"axis":{"values":[0,0.2,0.4,0.6,0.8,1],"labels":false,"title":null}},"y2":{"field":"hi"}}},
   {"mark":{"type":"line","strokeWidth":1.3,"clip":true},"encoding":{"y":{"field":"mean","type":"quantitative","axis":{"values":[0,0.2,0.4,0.6,0.8,1],"labels":false,"title":null}}}}]}},
{"transform":[{"filter":"datum.budget == 320"},{"flatten":["x","mean","lo","hi"]}],
 "facet":{"row":{"field":"target","type":"nominal","sort":["AP","A2A","BACE1","EGFR"],"title":null,"header":{"labels":false}},
          "column":{"field":"budget","type":"ordinal","title":"# Molecules (x10³)","header":{"labelOrient":"top","titleOrient":"bottom","labelExpr":"'Total budget: 320,000'"}}},
 "spacing":{"row":1.7},"resolve":{"axis":{"x":"independent"}},
 "spec":{"width":105,"height":85,
  "encoding":{"x":{"field":"x","type":"quantitative","scale":{"domain":[0,320],"nice":false},"axis":{"values":[0,64,128,192,256,320],"format":"d","title":null,"labelFlush":false,"labelOverlap":false}},
   "color":{"field":"method","type":"nominal","scale":{"domain":["m1","m2","m3","m4"],"range":["#0173b2","#de8f05","#029e73","#d55e00"]},"legend":null}},
  "layer":[
   {"mark":{"type":"area","opacity":0.22,"clip":true},"encoding":{"y":{"field":"lo","type":"quantitative","scale":{"domain":[0,1],"nice":false},"axis":{"values":[0,0.2,0.4,0.6,0.8,1],"labels":false,"title":null}},"y2":{"field":"hi"}}},
   {"mark":{"type":"line","strokeWidth":1.3,"clip":true},"encoding":{"y":{"field":"mean","type":"quantitative","axis":{"values":[0,0.2,0.4,0.6,0.8,1],"labels":false,"title":null}}}}]}},
{"transform":[{"filter":"datum.budget == 640"},{"flatten":["x","mean","lo","hi"]}],
 "facet":{"row":{"field":"target","type":"nominal","sort":["AP","A2A","BACE1","EGFR"],"title":null,"header":{"labels":false}},
          "column":{"field":"budget","type":"ordinal","title":"# Molecules (x10³)","header":{"labelOrient":"top","titleOrient":"bottom","labelExpr":"'Total budget: 640,000'"}}},
 "spacing":{"row":1.7},"resolve":{"axis":{"x":"independent"}},
 "spec":{"width":105,"height":85,
  "encoding":{"x":{"field":"x","type":"quantitative","scale":{"domain":[0,640],"nice":false},"axis":{"values":[0,128,256,384,512,640],"format":"d","title":null,"labelFlush":false,"labelOverlap":false}},
   "color":{"field":"method","type":"nominal","scale":{"domain":["m1","m2","m3","m4"],"range":["#0173b2","#de8f05","#029e73","#d55e00"]},"legend":null}},
  "layer":[
   {"mark":{"type":"area","opacity":0.22,"clip":true},"encoding":{"y":{"field":"lo","type":"quantitative","scale":{"domain":[0,1],"nice":false},"axis":{"values":[0,0.2,0.4,0.6,0.8,1],"labels":false,"title":null}},"y2":{"field":"hi"}}},
   {"mark":{"type":"line","strokeWidth":1.3,"clip":true},"encoding":{"y":{"field":"mean","type":"quantitative","axis":{"values":[0,0.2,0.4,0.6,0.8,1],"labels":false,"title":null}}}}]}},
{"transform":[{"filter":"datum.budget == 1280"},{"flatten":["x","mean","lo","hi"]}],
 "facet":{"row":{"field":"target","type":"nominal","sort":["AP","A2A","BACE1","EGFR"],"title":null,"header":{"labels":false}},
          "column":{"field":"budget","type":"ordinal","title":"# Molecules (x10³)","header":{"labelOrient":"top","titleOrient":"bottom","labelExpr":"'Total budget: 1,280,000'"}}},
 "spacing":{"row":1.7},"resolve":{"axis":{"x":"independent"}},
 "spec":{"width":105,"height":85,
  "encoding":{"x":{"field":"x","type":"quantitative","scale":{"domain":[0,1280],"nice":false},"axis":{"values":[0,256,512,768,1024,1280],"format":"d","title":null,"labelFlush":false,"labelOverlap":false}},
   "color":{"field":"method","type":"nominal","scale":{"domain":["m1","m2","m3","m4"],"range":["#0173b2","#de8f05","#029e73","#d55e00"]},"legend":null}},
  "layer":[
   {"mark":{"type":"area","opacity":0.22,"clip":true},"encoding":{"y":{"field":"lo","type":"quantitative","scale":{"domain":[0,1],"nice":false},"axis":{"values":[0,0.2,0.4,0.6,0.8,1],"labels":false,"title":null}},"y2":{"field":"hi"}}},
   {"mark":{"type":"line","strokeWidth":1.3,"clip":true},"encoding":{"y":{"field":"mean","type":"quantitative","axis":{"values":[0,0.2,0.4,0.6,0.8,1],"labels":false,"title":null}}}}]}}
],
"config":{
 "font":"DejaVu Sans",
 "view":{"stroke":"#8c8c8c","strokeWidth":1.2},
 "axis":{"domain":false,"grid":false,"tickSize":3.5,"tickColor":"#444","tickWidth":0.9,"labelFontSize":8,"labelColor":"#262626","labelPadding":1.5,"titleFontSize":8,"titleFontWeight":"normal","titleColor":"#262626","titlePadding":1},
 "header":{"labelFontSize":8,"labelColor":"#111","titleFontSize":8,"titleFontWeight":"normal","titleColor":"#262626","labelPadding":5,"titlePadding":0}
}
}
